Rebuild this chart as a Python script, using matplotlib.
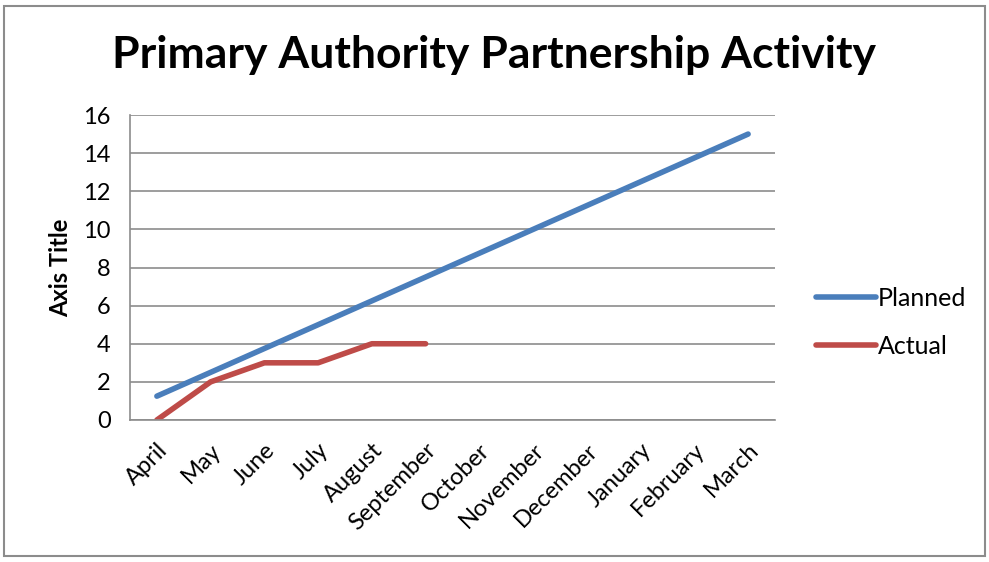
import matplotlib.pyplot as plt
from matplotlib.patches import Rectangle

months = ["April", "May", "June", "July", "August", "September",
          "October", "November", "December", "January", "February", "March"]
planned = [1.25, 2.5, 3.75, 5, 6.25, 7.5, 8.75, 10, 11.25, 12.5, 13.75, 15]
actual = [0, 2, 3, 3, 4, 4]

plt.rcParams['font.family'] = ['Lato', 'DejaVu Sans']

fig = plt.figure(figsize=(9.89, 5.62), dpi=100)
ax = fig.add_axes([130 / 989, 1 - 420 / 562, 645 / 989, 305 / 562])

x = list(range(len(months)))
ax.plot(x, planned, color="#4a7ebb", lw=4, solid_capstyle="round", label="Planned")
ax.plot(x[:len(actual)], actual, color="#be4b48", lw=4, solid_capstyle="round", label="Actual")

ax.set_xlim(-0.5, len(months) - 0.5)
ax.set_ylim(0, 16)
ax.set_yticks(range(0, 17, 2))
ax.set_xticks(x)
ax.set_xticklabels(months, rotation=45, ha="right", rotation_mode="anchor", fontsize=17)
ax.tick_params(axis="y", labelsize=17, length=0, pad=14)
ax.tick_params(axis="x", length=0, pad=14)
ax.grid(axis="y", color="#8c8c8c", lw=1.2)
ax.set_axisbelow(True)
for s in ["top", "right"]:
    ax.spines[s].set_visible(False)
ax.spines["left"].set_color("#8c8c8c")
ax.spines["bottom"].set_color("#8c8c8c")
ax.spines["left"].set_linewidth(1.2)
ax.spines["bottom"].set_linewidth(1.2)
ax.set_ylabel("Axis Title", fontsize=17, fontweight="bold", labelpad=8)

fig.text(0.5, 1 - 55 / 562, "Primary Authority Partnership Activity",
         ha="center", va="center", fontsize=32, fontweight="bold")

fig.legend(loc="center left", bbox_to_anchor=(793 / 989, 1 - 322 / 562),
           frameon=False, fontsize=18, handlelength=2.4, handletextpad=0.1,
           labelspacing=1.0)

fig.patches.append(Rectangle((4 / 989, 6 / 562), 981 / 989, 550 / 562,
                             transform=fig.transFigure, fill=False,
                             edgecolor="#8c8c8c", lw=1.5))

fig.savefig("out.png", dpi=100)
